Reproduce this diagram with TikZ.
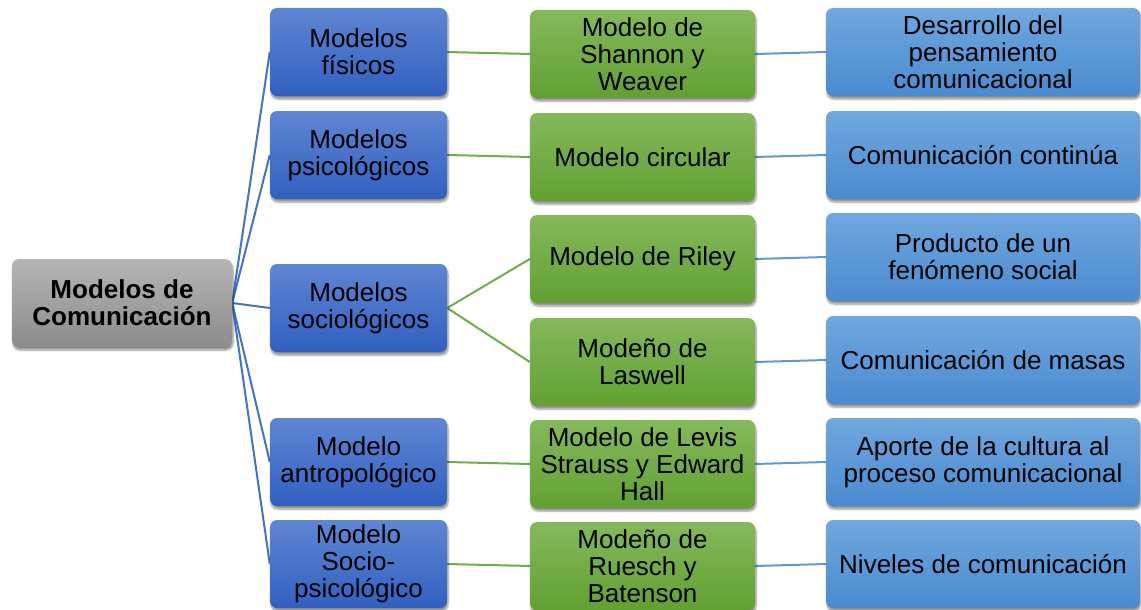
\documentclass[tikz,border=0pt]{standalone}
\usepackage{fontspec}
\setmainfont{Liberation Sans}
\usetikzlibrary{shadows.blur,backgrounds}
\definecolor{rootTop}{HTML}{B5B5B5}
\definecolor{rootBot}{HTML}{8C8C8C}
\definecolor{blueTop}{HTML}{5F86D3}
\definecolor{blueBot}{HTML}{3060C0}
\definecolor{greenTop}{HTML}{85B95C}
\definecolor{greenBot}{HTML}{62A032}
\definecolor{lightTop}{HTML}{70A8DF}
\definecolor{lightBot}{HTML}{4A8ACF}
\definecolor{lineBlue}{HTML}{4472C4}
\definecolor{lineGreen}{HTML}{70AD47}
\definecolor{lineLight}{HTML}{5B9BD5}
\tikzset{
  box/.style={rounded corners=7pt, minimum height=88pt, inner sep=0pt, align=center,
    font=\fontsize{26}{27}\selectfont, text=black,
    blur shadow={shadow xshift=1pt, shadow yshift=-3pt, shadow blur steps=6, shadow opacity=45}},
  rootbox/.style={box, minimum width=220pt, top color=rootTop, bottom color=rootBot,
    font=\fontsize{26}{27}\selectfont\bfseries},
  bluebox/.style={box, minimum width=177pt, top color=blueTop, bottom color=blueBot},
  greenbox/.style={box, minimum width=225pt, top color=greenTop, bottom color=greenBot},
  lightbox/.style={box, minimum width=314pt, top color=lightTop, bottom color=lightBot},
  lnblue/.style={draw=lineBlue, line width=2pt},
  lngreen/.style={draw=lineGreen, line width=2pt},
  lnlight/.style={draw=lineLight, line width=2pt},
}
\begin{document}
\begin{tikzpicture}[x=1pt,y=-1pt]
\useasboundingbox (0,0) rectangle (1141,610);
\node[rootbox] (root) at (122,303) {Modelos de\\Comunicación};

\node[bluebox] (b1) at (358.5,52) {Modelos\\físicos};
\node[bluebox] (b2) at (358.5,155) {Modelos\\psicológicos};
\node[bluebox] (b3) at (358.5,308) {Modelos\\sociológicos};
\node[bluebox] (b4) at (358.5,462) {Modelo\\antropológico};
\node[bluebox] (b5) at (358.5,564) {Modelo\\Socio-\\psicológico};

\node[greenbox] (g1) at (642.5,54) {Modelo de\\Shannon y\\Weaver};
\node[greenbox] (g2) at (642.5,157) {Modelo circular};
\node[greenbox] (g3) at (642.5,259) {Modelo de Riley};
\node[greenbox] (g4) at (642.5,362) {Modeño de\\Laswell};
\node[greenbox] (g5) at (642.5,464) {Modelo de Levis\\Strauss y Edward\\Hall};
\node[greenbox] (g6) at (642.5,566) {Modeño de\\Ruesch y\\Batenson};

\node[lightbox] (l1) at (983,52) {Desarrollo del\\pensamiento\\comunicacional};
\node[lightbox] (l2) at (983,155) {Comunicación continúa};
\node[lightbox] (l3) at (983,257) {Producto de un\\fenómeno social};
\node[lightbox] (l4) at (983,360) {Comunicación de masas};
\node[lightbox] (l5) at (983,462) {Aporte de la cultura al\\proceso comunicacional};
\node[lightbox] (l6) at (983,564) {Niveles de comunicación};

\begin{scope}[on background layer]
\foreach \b in {b1,b2,b3,b4,b5} \draw[lnblue] (root.east) -- (\b.west);
\draw[lngreen] (b1.east) -- (g1.west);
\draw[lngreen] (b2.east) -- (g2.west);
\draw[lngreen] (b3.east) -- (g3.west);
\draw[lngreen] (b3.east) -- (g4.west);
\draw[lngreen] (b4.east) -- (g5.west);
\draw[lngreen] (b5.east) -- (g6.west);
\draw[lnlight] (g1.east) -- (l1.west);
\draw[lnlight] (g2.east) -- (l2.west);
\draw[lnlight] (g3.east) -- (l3.west);
\draw[lnlight] (g4.east) -- (l4.west);
\draw[lnlight] (g5.east) -- (l5.west);
\draw[lnlight] (g6.east) -- (l6.west);
\end{scope}
\end{tikzpicture}
\end{document}
